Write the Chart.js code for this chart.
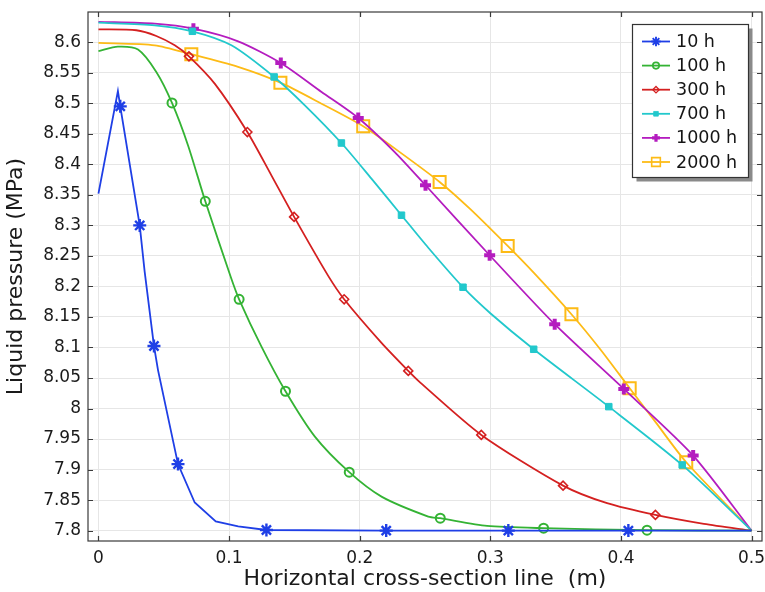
<!DOCTYPE html>
<html>
<head>
<meta charset="utf-8">
<script src="https://cdn.jsdelivr.net/npm/chart.js@4.4.1/dist/chart.umd.min.js"></script>
<style>
  html, body { margin: 0; padding: 0; background: #fff; }
  #wrap { width: 765px; height: 592px; }
</style>
</head>
<body>
<div id="wrap"><canvas id="pressureChart" width="765" height="592"></canvas></div>
<script>
// tick labels
const xTicks = [0, 0.1, 0.2, 0.3, 0.4, 0.5];
const yTicks = [7.8, 7.85, 7.9, 7.95, 8, 8.05, 8.1, 8.15, 8.2, 8.25, 8.3, 8.35, 8.4, 8.45, 8.5, 8.55, 8.6];

// series values (x in m, pressure in MPa)
const x10 = [0, 0.0149, 0.0167, 0.0316, 0.0354, 0.0425, 0.0456, 0.0609, 0.0737, 0.0898, 0.107, 0.1286, 0.2203, 0.3138, 0.4057, 0.5];
const y10 = [8.352, 8.520, 8.495, 8.300, 8.224, 8.1025, 8.063, 7.909, 7.846, 7.815, 7.807, 7.801, 7.8, 7.8, 7.8, 7.8];
const m10 = [2, 3, 5, 7, 11, 12, 13, 14];

const x100 = [0, 0.0149, 0.0303, 0.0443, 0.0563, 0.0686, 0.0818, 0.1013, 0.1077, 0.1248, 0.1432, 0.1657, 0.192, 0.2167, 0.2525, 0.2617, 0.2975, 0.3408, 0.42, 0.5];
const y100 = [8.5857, 8.5928, 8.588, 8.5513, 8.5006, 8.431, 8.3395, 8.2156, 8.179, 8.1014, 8.0283, 7.954, 7.8957, 7.8557, 7.823, 7.8203, 7.8077, 7.804, 7.8007, 7.8];
const m100 = [4, 6, 8, 10, 12, 15, 17, 18];

const x300 = [0, 0.029, 0.0443, 0.0584, 0.0693, 0.089, 0.114, 0.1324, 0.1498, 0.1759, 0.1881, 0.2167, 0.2372, 0.2464, 0.2931, 0.3557, 0.3894, 0.4264, 0.4635, 0.5];
const y300 = [8.6213, 8.6197, 8.6103, 8.595, 8.577, 8.5322, 8.453, 8.382, 8.3139, 8.2173, 8.179, 8.1075, 8.0616, 8.0424, 7.9568, 7.8737, 7.8449, 7.8257, 7.811, 7.8];
const m300 = [4, 6, 8, 10, 12, 14, 15, 17];

const x700 = [0, 0.0431, 0.0719, 0.1018, 0.1345, 0.158, 0.186, 0.209, 0.232, 0.2525, 0.2791, 0.3, 0.3332, 0.3907, 0.4469, 0.5];
const y700 = [8.6321, 8.6278, 8.618, 8.595, 8.5432, 8.4968, 8.435, 8.3766, 8.3167, 8.2634, 8.1987, 8.1561, 8.0971, 8.0031, 7.9076, 7.8];
const m700 = [2, 4, 6, 8, 10, 12, 13, 14];

const x1000 = [0, 0.0431, 0.0727, 0.1069, 0.1396, 0.1708, 0.1989, 0.227, 0.2504, 0.2995, 0.3493, 0.4022, 0.4553, 0.5];
const y1000 = [8.6335, 8.6305, 8.6223, 8.6016, 8.5661, 8.5186, 8.476, 8.4198, 8.3658, 8.2511, 8.1381, 8.0321, 7.9229, 7.8];
const m1000 = [2, 4, 6, 8, 9, 10, 11, 12];

const x2000 = [0, 0.0431, 0.0711, 0.1069, 0.1393, 0.1708, 0.2027, 0.232, 0.2612, 0.2847, 0.3133, 0.3332, 0.3621, 0.3843, 0.4067, 0.4251, 0.45, 0.5];
const y2000 = [8.5989, 8.595, 8.5804, 8.5596, 8.5338, 8.4994, 8.4624, 8.418, 8.3712, 8.3266, 8.2663, 8.2225, 8.1545, 8.0968, 8.0333, 7.9818, 7.912, 7.8];
const m2000 = [2, 4, 6, 8, 10, 12, 14, 16];

const seriesLabels = ['10 h', '100 h', '300 h', '700 h', '1000 h', '2000 h'];

const styles = [
    { color: '#1f3fe6', shape: 'star', r: 6.5, bw: 2.4, fill: false },
    { color: '#34b334', shape: 'circle', r: 4.5, bw: 2, fill: false },
    { color: '#d42020', shape: 'rectRot', r: 4.5, bw: 1.6, fill: false },
    { color: '#22c8cc', shape: 'rect', r: 4.6, bw: 1, fill: true },
    { color: '#b41cbf', shape: 'cross', r: 5.5, bw: 4, fill: true },
    { color: '#fdbb16', shape: 'rect', r: 8.5, bw: 2, fill: false }
];

function makeSet(i, xs, ys, marks, tension) {
    const s = styles[i];
    return {
        label: seriesLabels[i],
        data: xs.map((x, k) => ({ x: x, y: ys[k] })),
        borderColor: s.color,
        borderWidth: 1.8,
        pointStyle: s.shape,
        pointRadius: ctx => marks.includes(ctx.dataIndex) ? s.r : 0,
        pointHoverRadius: 0,
        pointBorderColor: s.color,
        pointBackgroundColor: s.fill ? s.color : 'rgba(0,0,0,0)',
        pointBorderWidth: s.bw,
        tension: tension
    };
}

// frame with inward ticks on all four sides
const framePlugin = {
    id: 'frame',
    afterDraw(chart) {
        const ctx = chart.ctx;
        const a = chart.chartArea;
        const xs = chart.scales.x, ys = chart.scales.y;
        ctx.save();
        ctx.strokeStyle = '#3a3a3a';
        ctx.lineWidth = 1.2;
        ctx.strokeRect(a.left, a.top, a.right - a.left, a.bottom - a.top);
        ctx.beginPath();
        xTicks.forEach(v => {
            const px = Math.round(xs.getPixelForValue(v)) + 0.5;
            ctx.moveTo(px, a.bottom); ctx.lineTo(px, a.bottom - 5);
            ctx.moveTo(px, a.top); ctx.lineTo(px, a.top + 5);
        });
        yTicks.forEach(v => {
            const py = Math.round(ys.getPixelForValue(v)) + 0.5;
            ctx.moveTo(a.left, py); ctx.lineTo(a.left + 5, py);
            ctx.moveTo(a.right, py); ctx.lineTo(a.right - 5, py);
        });
        ctx.stroke();
        ctx.restore();
    }
};

// boxed legend inside the plot, line + marker per entry
const legendPlugin = {
    id: 'boxLegend',
    afterDraw(chart) {
        const ctx = chart.ctx;
        const bx = 632.5, by = 24.5, bw = 116, bh = 153;
        ctx.save();
        ctx.fillStyle = '#8a8a8a';
        ctx.fillRect(bx + 4, by + 4, bw, bh);
        ctx.fillStyle = '#ffffff';
        ctx.fillRect(bx, by, bw, bh);
        ctx.strokeStyle = '#333';
        ctx.lineWidth = 1.2;
        ctx.strokeRect(bx, by, bw, bh);
        ctx.font = '17.5px "DejaVu Sans"';
        ctx.textBaseline = 'middle';
        seriesLabels.forEach((lab, i) => {
            const s = styles[i];
            const y = 41.5 + i * 24.1;
            ctx.strokeStyle = s.color;
            ctx.lineWidth = 1.8;
            ctx.beginPath();
            ctx.moveTo(642, y); ctx.lineTo(670, y);
            ctx.stroke();
            ctx.fillStyle = s.fill ? s.color : 'rgba(0,0,0,0)';
            ctx.lineWidth = s.bw * 0.8;
            Chart.helpers.drawPoint(ctx, { pointStyle: s.shape, radius: s.r * 0.72, borderWidth: s.bw * 0.8, rotation: 0 }, 656, y);
            ctx.fillStyle = '#151515';
            ctx.fillText(lab, 676, y + 1);
        });
        ctx.restore();
    }
};

const tickFont = { family: '"DejaVu Sans"', size: 17 };
const titleFont = { family: '"DejaVu Sans"', size: 22 };

const config = {
    type: 'line',
    data: {
        datasets: [
            makeSet(0, x10, y10, m10, 0),
            makeSet(1, x100, y100, m100, 0.25),
            makeSet(2, x300, y300, m300, 0.25),
            makeSet(3, x700, y700, m700, 0.25),
            makeSet(4, x1000, y1000, m1000, 0.25),
            makeSet(5, x2000, y2000, m2000, 0.25)
        ]
    },
    options: {
        responsive: false,
        animation: false,
        layout: { padding: { left: 0, right: 3, top: 12, bottom: 0 } },
        plugins: {
            legend: { display: false },
            tooltip: { enabled: false }
        },
        scales: {
            x: {
                type: 'linear',
                min: -0.008,
                max: 0.508,
                afterBuildTicks: s => { s.ticks = xTicks.map(v => ({ value: v })); },
                afterFit: s => { s.height = 51; s.paddingLeft = 0; s.paddingRight = 0; },
                ticks: {
                    font: tickFont,
                    color: '#1a1a1a',
                    padding: 7,
                    maxRotation: 0,
                    callback: v => String(v)
                },
                grid: { color: '#e6e6e6', drawTicks: false },
                border: { display: false },
                title: {
                    display: true,
                    text: 'Horizontal cross-section line  (m)',
                    font: titleFont,
                    color: '#1a1a1a',
                    padding: { top: 0, bottom: 0 }
                }
            },
            y: {
                type: 'linear',
                min: 7.783,
                max: 8.6496,
                afterBuildTicks: s => { s.ticks = yTicks.map(v => ({ value: v })); },
                afterFit: s => { s.width = 88; s.paddingTop = 0; s.paddingBottom = 0; },
                ticks: {
                    font: tickFont,
                    color: '#1a1a1a',
                    padding: 7,
                    callback: v => String(+v.toFixed(2))
                },
                grid: { color: '#e6e6e6', drawTicks: false },
                border: { display: false },
                title: {
                    display: true,
                    text: 'Liquid pressure (MPa)',
                    font: titleFont,
                    color: '#1a1a1a',
                    padding: { top: 3, bottom: 0 }
                }
            }
        }
    },
    plugins: [framePlugin, legendPlugin]
};

const ctx = document.getElementById('pressureChart').getContext('2d');
const pressureChart = new Chart(ctx, config);
</script>
</body>
</html>
